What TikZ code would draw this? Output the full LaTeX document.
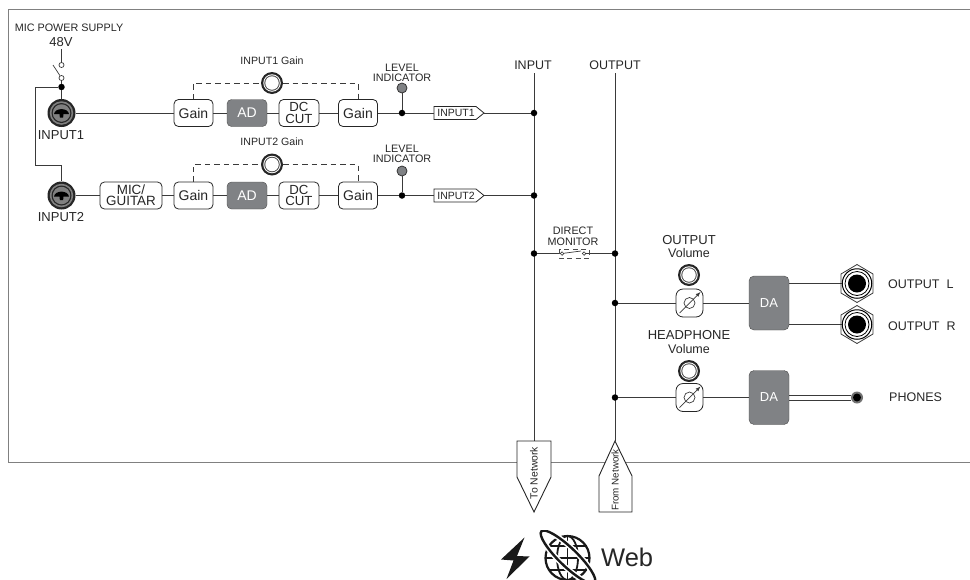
\documentclass[tikz,border=0pt]{standalone}
\usepackage{fontspec}
\setmainfont{Liberation Sans}
\usetikzlibrary{calc}
\definecolor{wire}{HTML}{3A3A3A}
\definecolor{dabox}{HTML}{808285}
\newcommand{\fs}[1]{\fontsize{#1}{#1}\selectfont}
\tikzset{
  wireline/.style={draw=wire,line width=.9pt},
  thin wire/.style={draw=wire,line width=.7pt},
  dashline/.style={draw=wire,line width=.8pt,dash pattern=on 5.5pt off 4pt},
  procbox/.style={draw=black!85,line width=.8pt,fill=white,rounded corners=4.5pt,inner sep=0pt,align=center,text=black!85},
  gainbox/.style={procbox,minimum width=39pt,minimum height=27pt,font=\fs{14}},
  dcbox/.style={procbox,minimum width=40pt,minimum height=27pt,font=\fs{13.2},execute at begin node={\baselineskip=11.2pt}},
  adbox/.style={draw=black!70,fill=dabox,rounded corners=4.5pt,inner sep=0pt,minimum width=40pt,minimum height=27pt,text=white,font=\fs{14}},
  dabx/.style={draw=black!70,fill=dabox,rounded corners=5pt,inner sep=0pt,minimum width=40pt,minimum height=54pt,text=white,font=\fs{13}},
  volbox/.style={procbox,rounded corners=7pt,minimum width=27pt,minimum height=28pt},
  junction/.style={circle,fill=black,draw=none,minimum size=6.5pt,inner sep=0pt},
  opencontact/.style={circle,draw=wire,fill=white,line width=.7pt,minimum size=5pt,inner sep=0pt},
  meter/.style={circle,draw=black!80,fill=dabox,line width=.8pt,minimum size=10pt,inner sep=0pt},
  lab/.style={inner sep=0pt,text=black!85},
  smalllab/.style={lab,font=\fs{10.8},align=center,execute at begin node={\baselineskip=10.3pt}},
  jacklab/.style={lab,font=\fs{13}},
  knobpart/.style={circle,inner sep=0pt,draw=none},
}
% rotary knob
\newcommand{\knob}[2]{%
  \node[knobpart,fill=black!85,minimum size=22pt] (#1) at (#2) {};
  \node[knobpart,fill=white,minimum size=17.5pt] at (#2) {};
  \node[knobpart,fill=black!70,minimum size=15.5pt] at (#2) {};
  \node[knobpart,fill=white,minimum size=13.5pt] at (#2) {};
}
% combo input
\newcommand{\combo}[2]{%
  \node[knobpart,fill=black!85,minimum size=28pt] (#1) at (#2) {};
  \node[knobpart,fill=black!50,minimum size=23.5pt] at (#2) {};
  \node[knobpart,fill=black!85,minimum size=20pt] at (#2) {};
  \node[knobpart,fill=black!50,minimum size=17.5pt] at (#2) {};
  \fill[black,shift={(#2)}] (-7.5,1) .. controls (-6.5,-5.5) and (6.5,-5.5) .. (7.5,1) -- (2,1.2) -- (1.6,4.5) -- (-1.6,4.5) -- (-2,1.2) -- cycle;
}
% variable attenuator
\newcommand{\volglyph}[1]{%
  \draw[wire,line width=.7pt,shift={(#1)}] (0,0) circle (5.5);
  \draw[wire,line width=.7pt,shift={(#1)},-{latex}] (-10,10) -- (11,-11);
}
% quarter inch jack
\newcommand{\trs}[2]{%
  \draw[wire,line width=.8pt,fill=white,shift={(#2)}] (0,-19) -- (16,-9.5) -- (16,9.5) -- (0,19) -- (-16,9.5) -- (-16,-9.5) -- cycle;
  \node[knobpart,draw=black,line width=1pt,fill=white,minimum size=29.5pt] (#1) at (#2) {};
  \node[knobpart,draw=black,line width=.8pt,fill=white,minimum size=24pt] at (#2) {};
  \node[knobpart,fill=black,minimum size=18pt] at (#2) {};
}
\begin{document}
\begin{tikzpicture}[x=1pt,y=-1pt]
\useasboundingbox (0,0) rectangle (970,579);
\draw[draw=black!50,line width=.9pt] (970,9) -- (8,9) -- (8,462) -- (970,462);

% ---------- mic power
\node[lab,font=\fs{10.8}] (micpower) at (69,28) {MIC POWER SUPPLY};
\node[lab,font=\fs{13}] (v48) at (61,42.5) {48V};
\node[opencontact] (c1) at (61.5,65) {};
\node[opencontact] (c2) at (61.5,78) {};
\node[junction] (j0) at (61.5,87) {};
\draw[thin wire] (v48.south -| c1) ++(0,1.5) -- (c1);
\coordinate (bladeend) at (53,65);
\draw[thin wire] (c2) -- (bladeend);
\draw[thin wire] (c2) -- (j0);

% ---------- inputs
\combo{in1}{61.5,113}
\combo{in2}{61.5,195.5}
\node[jacklab] (in1lab) at (61,135) {INPUT1};
\node[jacklab] (in2lab) at (61,217) {INPUT2};
\coordinate (ph1) at (35,87);
\coordinate (ph2) at (35,165);
\coordinate (ph3) at (61.5,165);
\draw[thin wire] (j0) -- (ph1) -- (ph2) -- (ph3) -- (in2);
\draw[thin wire] (j0) -- (in1);

% ---------- row 1
\node[gainbox] (g1a) at (193.5,113) {Gain};
\node[adbox]   (ad1) at (247,113) {AD};
\node[dcbox]   (dc1) at (299,113) {DC\\CUT};
\node[gainbox] (g1b) at (358,113) {Gain};
\node[junction] (lv1) at (402,113) {};
\node[meter] (m1) at (402,88) {};
\node[smalllab] (lvl1) at (402,72.5) {LEVEL\\INDICATOR};
\knob{k1}{272,83}
\node[lab,font=\fs{10.6}] (k1lab) at (272,61) {INPUT1 Gain};

% ---------- row 2
\node[procbox,minimum width=62pt,minimum height=27pt,font=\fs{13.4},execute at begin node={\baselineskip=11.2pt}] (mg) at (131,195.5) {MIC/\\GUITAR};
\node[gainbox] (g2a) at (193.5,195.5) {Gain};
\node[adbox]   (ad2) at (247,195.5) {AD};
\node[dcbox]   (dc2) at (299,195.5) {DC\\CUT};
\node[gainbox] (g2b) at (358,195.5) {Gain};
\node[junction] (lv2) at (402,195.5) {};
\node[meter] (m2) at (402,171) {};
\node[smalllab] (lvl2) at (402,154) {LEVEL\\INDICATOR};
\knob{k2}{272,164.5}
\node[lab,font=\fs{10.6}] (k2lab) at (272,142) {INPUT2 Gain};

% ---------- tags
\draw[line width=.8pt,draw=black!85,fill=white] (434,106.5) -- (476,106.5) -- (484,113) -- (476,119.5) -- (434,119.5) -- cycle;
\coordinate (t1l) at (434,113);
\coordinate (t1r) at (484,113);
\node[lab,font=\fs{10.5}] (t1) at (456,113) {INPUT1};
\draw[line width=.8pt,draw=black!85,fill=white] (434,189) -- (476,189) -- (484,195.5) -- (476,202) -- (434,202) -- cycle;
\coordinate (t2l) at (434,195.5);
\coordinate (t2r) at (484,195.5);
\node[lab,font=\fs{10.5}] (t2) at (456,195.5) {INPUT2};

% ---------- buses
\node[lab,font=\fs{12.5}] (inbus) at (533,65.5) {INPUT};
\node[lab,font=\fs{12.5}] (outbus) at (615,65.5) {OUTPUT};
\coordinate (intop) at (534,73);
\coordinate (outtop) at (615,73);
\coordinate (inbot) at (534,441);
\coordinate (outbot) at (615,441);
\draw[wireline] (intop) -- (inbot);
\draw[wireline] (outtop) -- (outbot);
\node[junction] (b1) at (534,113) {};
\node[junction] (b2) at (534,195.5) {};
\node[junction] (b3) at (534,253.5) {};
\node[junction] (b4) at (615,253.5) {};
\node[junction] (b5) at (615,303) {};
\node[junction] (b6) at (615,397.5) {};

% row wires
\draw[wireline] (in1) -- (g1a);
\draw[wireline] (g1a) -- (ad1);
\draw[wireline] (ad1) -- (dc1);
\draw[wireline] (dc1) -- (g1b);
\draw[wireline] (g1b) -- (lv1);
\draw[wireline] (lv1) -- (t1l);
\draw[wireline] (t1r) -- (b1);
\draw[wireline] (lv1) -- (m1);
\draw[wireline] (in2) -- (mg);
\draw[wireline] (mg) -- (g2a);
\draw[wireline] (g2a) -- (ad2);
\draw[wireline] (ad2) -- (dc2);
\draw[wireline] (dc2) -- (g2b);
\draw[wireline] (g2b) -- (lv2);
\draw[wireline] (lv2) -- (t2l);
\draw[wireline] (t2r) -- (b2);
\draw[wireline] (lv2) -- (m2);
% dashed gain links
\draw[dashline] (g1a.north) -- (g1a.north |- k1) -- (k1);
\draw[dashline] (k1) -- (g1b.north |- k1) -- (g1b.north);
\draw[dashline] (g2a.north) -- (g2a.north |- k2) -- (k2);
\draw[dashline] (k2) -- (g2b.north |- k2) -- (g2b.north);

% ---------- direct monitor
\node[smalllab,execute at begin node={\baselineskip=11pt}] (dm) at (573,236.5) {DIRECT\\MONITOR};
\node[opencontact,minimum size=3.5pt] (s1) at (562,253.5) {};
\node[opencontact,minimum size=3.5pt] (s2) at (584,253.5) {};
\draw[wireline] (b3) -- (s1);
\draw[wireline] (s2) -- (b4);
\draw[thin wire] (s1) -- (581,251);
\draw[draw=black!70,line width=.7pt,dash pattern=on 5pt off 3.5pt] (559,249) rectangle (589,258);

% ---------- output chain
\node[lab,font=\fs{13}] (ol) at (689,240) {OUTPUT};
\node[lab,font=\fs{12.5}] (ovl) at (689,253.5) {Volume};
\knob{k3}{689,275}
\node[volbox] (v1) at (689.5,303) {};
\volglyph{689.5,303}
\node[dabx] (da1) at (769,303) {DA};
\trs{o1}{857,283.5}
\trs{o2}{857,324.5}
\node[lab,font=\fs{12.5},anchor=west] (o1lab) at (888,284) {OUTPUT\ \ L};
\node[lab,font=\fs{12.5},anchor=west] (o2lab) at (888,326) {OUTPUT\ \ R};
\draw[wireline] (b5) -- (v1);
\draw[wireline] (v1) -- (da1);
\draw[thin wire] (da1.east |- o1) -- (o1);
\draw[thin wire] (da1.east |- o2) -- (o2);

% ---------- headphones
\node[lab,font=\fs{13}] (hl) at (689,335.5) {HEADPHONE};
\node[lab,font=\fs{12.5}] (hvl) at (689,349) {Volume};
\knob{k4}{689,371}
\node[volbox] (v2) at (689.5,397.5) {};
\volglyph{689.5,397.5}
\node[dabx] (da2) at (769,397.5) {DA};
\node[knobpart,fill=black!55,minimum size=12pt] (ph) at (857,397.5) {};
\node[knobpart,fill=black,minimum size=8pt] at (857,397.5) {};
\node[lab,font=\fs{12.5},anchor=west] (phlab) at (889,397) {PHONES};
\draw[wireline] (b6) -- (v2);
\draw[wireline] (v2) -- (da2);
\draw[wireline] ($(da2.east)+(0,-2.5)$) -- ($(ph.west)+(0,-2.5)$);
\draw[wireline] ($(da2.east)+(0,2.5)$) -- ($(ph.west)+(0,2.5)$);

% ---------- network arrows
\draw[line width=.9pt,draw=black!85,fill=white] (517,441) -- (551,441) -- (551,477) -- (534,512) -- (517,477) -- cycle;
\node[lab,font=\fs{10.4},rotate=90] (ton) at (534,473) {To Network};
\draw[line width=.9pt,draw=black!85,fill=white] (615,441) -- (632,476) -- (632,512) -- (599,512) -- (599,476) -- cycle;
\node[lab,font=\fs{9.8},rotate=90] (fromn) at (615,480) {From Network};

% ---------- web status
\fill[black!90] (524.5,537.5) -- (501,559.5) -- (513.5,560.5) -- (506.5,579) -- (529.5,556.5) -- (517,556) -- cycle;
\begin{scope}
  \clip (530,530) rectangle (600,579);
  \draw[black!90,line width=2.2pt] (567.5,558) circle (22);
  \draw[black!90,line width=1.8pt] (567.5,558) ellipse (10.5 and 22);
  \draw[black!90,line width=1.8pt] (567.5,536) -- (567.5,580);
  \draw[black!90,line width=1.8pt] (545.5,558) -- (589.5,558);
  \draw[black!90,line width=1.8pt] (549,546) -- (586,546);
  \draw[black!90,line width=1.8pt] (549,570) -- (586,570);
  \begin{scope}[rotate around={-44:(568,557)}]
    \draw[white,line width=5.5pt] (568,557) ellipse (37 and 9);
    \draw[black!90,line width=2.4pt] (568,557) ellipse (37 and 9);
  \end{scope}
\end{scope}
\node[lab,font=\fs{25.5},anchor=base west] (web) at (601,566.5) {Web};
\end{tikzpicture}
\end{document}
